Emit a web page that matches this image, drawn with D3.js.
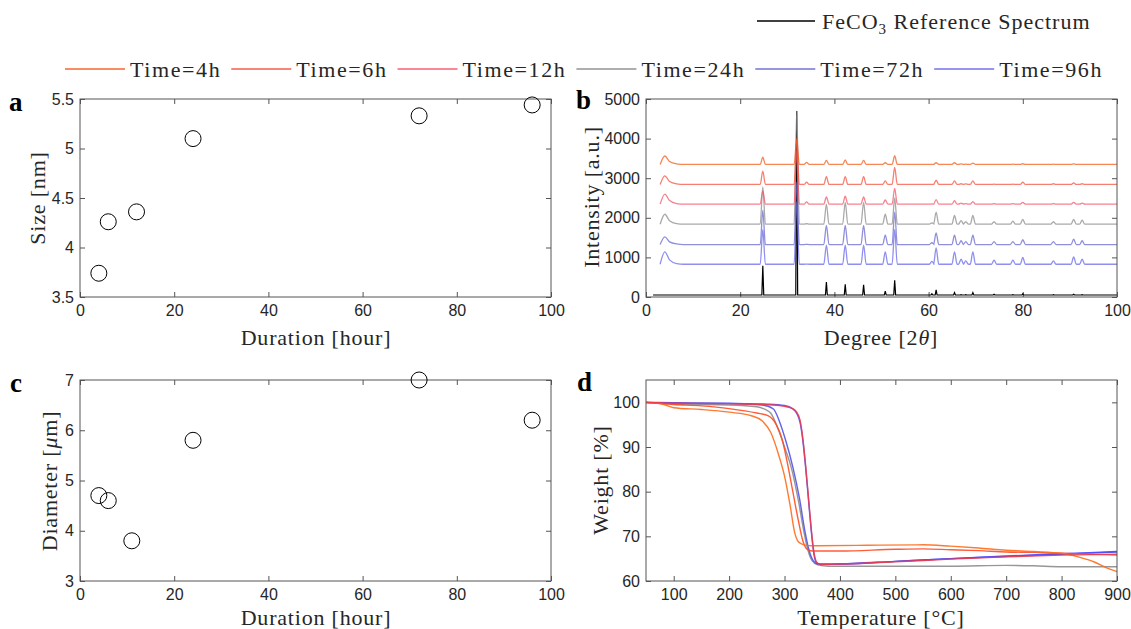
<!DOCTYPE html>
<html>
<head>
<meta charset="utf-8">
<script src="https://cdn.jsdelivr.net/npm/d3@7"></script>
<style>
body { margin: 0; background: #fff; }
</style>
</head>
<body>
<svg id="fig" width="1131" height="629"></svg>
<script>
// ---- data ----
var durations = [4, 6, 12, 24, 72, 96];
var sizes = [3.74, 4.26, 4.36, 5.10, 5.33, 5.44];
var diamDurations = [4, 6, 11, 24, 72, 96];
var diameters = [4.7, 4.6, 3.8, 5.8, 7.0, 6.2];

var seriesNames = ["Time=4h", "Time=6h", "Time=12h", "Time=24h", "Time=72h", "Time=96h"];
var seriesColors = ["#f45d1c", "#f5533f", "#f4566a", "#8c8c8c", "#6a6ad0", "#6a6aeb"];

// XRD peak positions (2theta) and peak tops per series
var xrdPeaks = [4, 24.8, 32.0, 34.1, 38.3, 42.3, 46.2, 50.8, 52.8, 60.7, 61.6, 65.5, 66.9, 67.9, 69.4, 73.9, 77.9, 80.0, 86.5, 90.8, 92.6];
var xrdBase = [3348, 2842, 2345, 1838, 1325, 827];
var xrd4h  = [3560, 3530, 4000, 3400, 3450, 3460, 3450, 3390, 3570, 3348, 3390, 3390, 3360, 3355, 3380, 3350, 3355, 3365, 3355, 3360, 3350];
var xrd6h  = [3060, 3180, 3950, 2900, 3040, 3040, 3040, 2930, 3270, 2845, 2950, 2930, 2860, 2855, 2930, 2850, 2850, 2900, 2860, 2880, 2860];
var xrd12h = [2600, 2680, 3700, 2400, 2530, 2545, 2530, 2450, 2740, 2350, 2460, 2430, 2370, 2360, 2410, 2355, 2360, 2390, 2360, 2390, 2370];
var xrd24h = [2090, 2780, 4700, 1850, 2345, 2390, 2390, 2090, 2500, 1870, 2140, 2060, 1930, 1900, 2060, 1900, 1915, 1960, 1900, 1960, 1940];
var xrd72h = [1520, 2190, 2900, 1330, 1810, 1810, 1810, 1560, 2140, 1370, 1620, 1560, 1420, 1400, 1560, 1400, 1400, 1450, 1400, 1460, 1420];
var xrd96h = [1140, 1700, 2400, 830, 1310, 1310, 1310, 1140, 1700, 900, 1240, 1140, 955, 910, 1140, 930, 930, 1000, 910, 1010, 955];
var refBase = 50;
var xrdRef = [50, 790, 4700, 50, 380, 320, 310, 150, 420, 80, 180, 110, 60, 60, 110, 70, 60, 80, 60, 70, 60];

// TGA curves [temperature, weight %]
var tga4h = [[50,100],[70,99.9],[85,99.4],[100,98.8],[150,98.4],[200,97.8],[240,97],[260,95.8],[275,93.3],[290,88],[300,83.5],[310,77],[318,71],[325,68.8],[335,68.1],[350,67.9],[450,68.0],[550,68.1],[600,67.8],[650,67.4],[700,66.9],[750,66.6],[800,66.2],[830,65.4],[860,64.2],[880,63],[900,62.1]];
var tga6h = [[50,100],[100,99.5],[150,99.2],[200,98.6],[250,97.6],[270,97],[285,95],[295,92],[305,86.5],[315,80],[325,73.5],[333,69],[340,67.2],[350,66.7],[400,66.7],[500,67.1],[550,67.2],[600,67.0],[650,66.8],[700,66.5],[750,66.4],[800,66.2],[850,66.0],[900,65.8]];
var tga12h = [[50,100],[100,99.8],[200,99.7],[280,99.4],[300,99.1],[315,98.6],[322,97.8],[328,96],[333,92],[338,86],[343,79],[348,72],[353,66.5],[358,64.2],[365,63.7],[400,63.8],[500,64.3],[600,64.9],[700,65.4],[800,65.8],[900,66.0]];
var tga24h = [[50,100],[100,99.6],[200,99.4],[250,99.0],[265,98.4],[275,97.6],[287,94.5],[300,90],[313,85],[325,78],[335,71],[342,67],[350,64.5],[360,63.6],[380,63.3],[500,63.3],[600,63.3],[700,63.5],[750,63.4],[800,63.2],[900,63.2]];
var tga72h = [[50,100],[100,99.8],[200,99.7],[260,99.4],[280,98.5],[290,96],[302,91.5],[315,85.5],[327,78.5],[337,71],[344,67],[352,64.5],[360,63.8],[400,63.8],[500,64.4],[600,65],[700,65.5],[800,66.0],[900,66.5]];
var tga96h = [[50,100],[100,99.9],[200,99.8],[270,99.6],[300,99.3],[315,98.5],[322,97.5],[328,95.5],[333,91.5],[338,85.5],[343,78.5],[348,71.5],[353,66],[358,64],[365,63.7],[400,63.8],[500,64.4],[600,65.0],[700,65.6],[800,66.1],[900,66.6]];

var xTicksDur = [0, 20, 40, 60, 80, 100];
var yTicksSize = [3.5, 4, 4.5, 5, 5.5];
var yTicksDiam = [3, 4, 5, 6, 7];
var yTicksInt = [0, 1000, 2000, 3000, 4000, 5000];
var xTicksTemp = [100, 200, 300, 400, 500, 600, 700, 800, 900];
var yTicksWeight = [60, 70, 80, 90, 100];

// ---- drawing ----
var svg = d3.select("#fig");
var axisColor = "#555";
var sans = "'Liberation Sans', Arial, sans-serif";
var serif = "'Liberation Serif', 'Times New Roman', serif";

function makeAxes(left, top, w, h, xs, ys, xTicks, yTicks) {
  var g = svg.append("g").attr("transform", "translate(" + left + "," + top + ")");
  g.append("g").attr("transform", "translate(0," + h + ")")
    .call(d3.axisBottom(xs).tickValues(xTicks).tickSizeInner(-5).tickSizeOuter(0).tickPadding(8).tickFormat(d => d));
  g.append("g")
    .call(d3.axisTop(xs).tickValues(xTicks).tickSizeInner(-5).tickSizeOuter(0).tickFormat(""));
  g.append("g")
    .call(d3.axisLeft(ys).tickValues(yTicks).tickSizeInner(-5).tickSizeOuter(0).tickPadding(6).tickFormat(d => d));
  g.append("g").attr("transform", "translate(" + w + ",0)")
    .call(d3.axisRight(ys).tickValues(yTicks).tickSizeInner(-5).tickSizeOuter(0).tickFormat(""));
  g.selectAll(".domain").remove();
  g.selectAll(".tick line").attr("stroke", axisColor);
  g.selectAll(".tick text").attr("font-family", sans).attr("font-size", 16).attr("fill", "#262626");
  g.append("rect").attr("width", w).attr("height", h)
    .attr("fill", "none").attr("stroke", axisColor).attr("stroke-width", 1);
  return g;
}

function title(x, y, txt, rotate) {
  var t = svg.append("text")
    .attr("font-family", serif).attr("font-size", 22).attr("letter-spacing", 0.8)
    .attr("fill", "#262626").attr("text-anchor", "middle").attr("dy", "0.35em");
  if (rotate) t.attr("transform", "translate(" + x + "," + y + ") rotate(-90)");
  else t.attr("x", x).attr("y", y);
  txt.forEach(function(p) {
    var s = t.append("tspan").text(p[0]);
    if (p[1]) s.attr("font-style", "italic");
  });
}

function panelLabel(x, y, txt) {
  svg.append("text").attr("x", x).attr("y", y).text(txt)
    .attr("font-family", serif).attr("font-weight", "bold").attr("font-size", 27).attr("fill", "#000");
}

var W = 471;

// panel a
var xa = d3.scaleLinear().domain([0, 100]).range([0, W]);
var ya = d3.scaleLinear().domain([3.5, 5.5]).range([198, 0]);
var ga = makeAxes(80, 99, W, 198, xa, ya, xTicksDur, yTicksSize);
ga.selectAll("circle.pt").data(durations).enter().append("circle")
  .attr("cx", d => xa(d))
  .attr("cy", (d, i) => ya(sizes[i]))
  .attr("r", 8)
  .attr("fill", "none").attr("stroke", "#000").attr("stroke-width", 1);

// panel c
var yc = d3.scaleLinear().domain([3, 7]).range([201, 0]);
var gc = makeAxes(80, 380, W, 201, xa, yc, xTicksDur, yTicksDiam);
gc.selectAll("circle.pt").data(diamDurations).enter().append("circle")
  .attr("cx", d => xa(d))
  .attr("cy", (d, i) => yc(diameters[i]))
  .attr("r", 8)
  .attr("fill", "none").attr("stroke", "#000").attr("stroke-width", 1);

// panel b
var xb = d3.scaleLinear().domain([0, 100]).range([0, W]);
var yb = d3.scaleLinear().domain([0, 5000]).range([198, 0]);
var gb = makeAxes(646, 99, W, 198, xb, yb, xTicksDur, yTicksInt);

function spectrum(tops, base, start, hw) {
  var pts = [[start, base]];
  xrdPeaks.forEach(function(p, i) {
    if (i === 0) {
      if (tops[0] > base + 5) {
        pts = [[start, base], [p, tops[0]], [p + 1, base + (tops[0] - base) * 0.35], [p + 2.5, base + 15], [p + 4, base]];
      }
      return;
    }
    pts.push([p - hw, base], [p, tops[i]], [p + hw, base]);
  });
  pts.push([100, base]);
  return pts;
}

var lineRef = d3.line().x(d => xb(d[0])).y(d => yb(d[1]));
var lineB = d3.line().x(d => xb(d[0])).y(d => yb(d[1])).curve(d3.curveMonotoneX);
gb.insert("path", "rect").attr("d", lineRef(spectrum(xrdRef, refBase, 1.5, 0.2)))
  .attr("fill", "none").attr("stroke", "#000").attr("stroke-width", 1.2);

var xrdAll = [xrd4h, xrd6h, xrd12h, xrd24h, xrd72h, xrd96h];
var drawOrder = [3, 5, 4, 2, 1, 0];
drawOrder.forEach(function(k) {
  gb.insert("path", "rect").attr("d", lineB(spectrum(xrdAll[k], xrdBase[k], 3, 0.55)))
    .attr("fill", "none").attr("stroke", seriesColors[k]).attr("stroke-opacity", 0.75)
    .attr("stroke-width", 1.3);
});

// panel d
var xd = d3.scaleLinear().domain([50, 900]).range([0, W]);
var yd = d3.scaleLinear().domain([60, 105]).range([201, 0]);
var gd = makeAxes(646, 380, W, 201, xd, yd, xTicksTemp, yTicksWeight);
var lineD = d3.line().x(d => xd(d[0])).y(d => yd(d[1])).curve(d3.curveMonotoneX);
var tgaAll = [tga4h, tga6h, tga12h, tga24h, tga72h, tga96h];
var tgaColors = ["#ff6a1a", "#ff4a22", "#f03a4a", "#8c8c8c", "#5050e8", "#4a4aff"];
[3, 4, 5, 1, 0, 2].forEach(function(k) {
  gd.insert("path", "rect").attr("d", lineD(tgaAll[k]))
    .attr("fill", "none").attr("stroke", tgaColors[k]).attr("stroke-width", 1.4)
    .attr("stroke-opacity", 0.9);
});

// titles
title(37, 198, [["Size [nm]"]], true);
title(591, 197, [["Intensity [a.u.]"]], true);
title(49, 481, [["Diameter ["], ["\u03bc", true], ["m]"]], true);
title(600, 480, [["Weight [%]"]], true);
title(316, 337, [["Duration [hour]"]]);
title(881, 337, [["Degree [2"], ["\u03b8", true], ["]"]]);
title(316, 617, [["Duration [hour]"]]);
title(881, 617, [["Temperature [\u00b0C]"]]);

panelLabel(9, 111, "a");
panelLabel(576, 109, "b");
panelLabel(10, 392, "c");
panelLabel(577, 391, "d");

// legend
var leg = svg.append("g");
leg.append("line").attr("x1", 757).attr("x2", 815).attr("y1", 21).attr("y2", 21)
  .attr("stroke", "#000").attr("stroke-opacity", 0.75).attr("stroke-width", 2);
var refTxt = leg.append("text").attr("x", 822).attr("y", 21).attr("dy", "0.35em")
  .attr("font-family", serif).attr("font-size", 22).attr("letter-spacing", 1)
  .attr("fill", "#262626");
refTxt.append("tspan").text("FeCO");
refTxt.append("tspan").text("3").attr("font-size", 15).attr("dy", "5");
refTxt.append("tspan").text(" Reference Spectrum").attr("dy", "-5");

var lx = 65;
seriesNames.forEach(function(name, i) {
  leg.append("line").attr("x1", lx).attr("x2", lx + 60).attr("y1", 69).attr("y2", 69)
    .attr("stroke", seriesColors[i]).attr("stroke-opacity", 0.7).attr("stroke-width", 2);
  var t = leg.append("text").attr("x", lx + 65).attr("y", 69).attr("dy", "0.35em")
    .attr("font-family", serif).attr("font-size", 22).attr("letter-spacing", 1.6)
    .attr("fill", "#262626").text(name);
  lx += 65 + t.node().getComputedTextLength() + 10;
});
</script>
</body>
</html>
